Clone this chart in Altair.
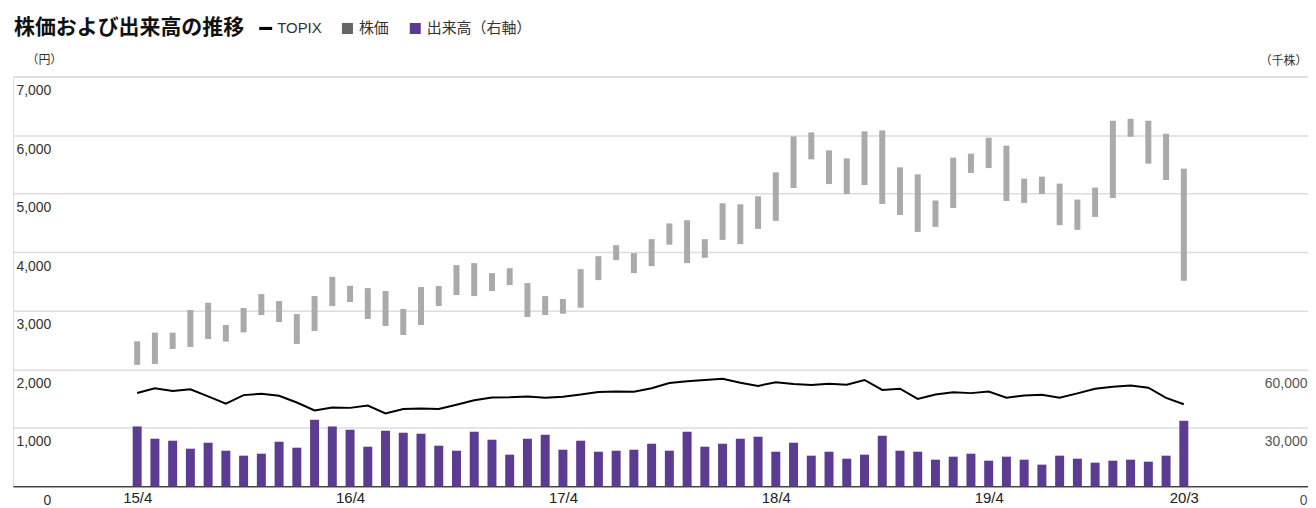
import altair as alt
import pandas as pd

# month labels 15/4 .. 20/3
MONTHS = []
for k in range(60):
    m = (4 + k - 1) % 12 + 1
    yy = 15 + (3 + k) // 12
    MONTHS.append(f"{yy}/{m}")

TICK_POS = [0, 12, 24, 36, 48, 59]
TICK_LABELS = ["15/4", "16/4", "17/4", "18/4", "19/4", "20/3"]

HIGH = [2477, 2625, 2625, 3012, 3136, 2756, 3046, 3284, 3165, 2943, 3250, 3579,
        3426, 3387, 3336, 3029, 3404, 3421, 3779, 3813, 3642, 3727, 3472, 3250,
        3199, 3710, 3932, 4119, 3983, 4222, 4491, 4546, 4222, 4835, 4818, 4955,
        5364, 5978, 6046, 5739, 5603, 6063, 6080, 5449, 5330, 4883, 5615, 5683,
        5955, 5819, 5256, 5291, 5171, 4899, 5103, 6245, 6279, 6245, 6024, 5427]
LOW = [2075, 2091, 2347, 2381, 2517, 2472, 2630, 2926, 2807, 2432, 2654, 3080,
       3148, 2858, 2739, 2586, 2756, 3080, 3267, 3250, 3336, 3438, 2892, 2926,
       2949, 3051, 3523, 3864, 3642, 3762, 4128, 3813, 3904, 4210, 4137, 4398,
       4534, 5096, 5586, 5164, 4994, 5147, 4824, 4636, 4346, 4432, 4755, 5352,
       5437, 4875, 4841, 4994, 4461, 4381, 4602, 4926, 5972, 5512, 5233, 3511]
TOPIX = [1593, 1674, 1630, 1659, 1537, 1411, 1558, 1580, 1547, 1432, 1297, 1347,
         1340, 1380, 1245, 1322, 1329, 1322, 1393, 1470, 1519, 1521, 1535, 1513,
         1531, 1568, 1612, 1618, 1617, 1675, 1766, 1793, 1818, 1837, 1768, 1716,
         1777, 1747, 1731, 1753, 1735, 1817, 1646, 1667, 1494, 1567, 1608, 1592,
         1618, 1512, 1551, 1566, 1512, 1588, 1667, 1700, 1721, 1685, 1511, 1403]
VOLUME = [30680, 24390, 23370, 19280, 22340, 18250, 15700, 16720, 22850, 19790, 34100, 30680,
          28990, 20300, 28480, 27460, 26950, 20810, 18250, 27970, 23880, 16210, 24390, 26430,
          18760, 23370, 17740, 18250, 18760, 21830, 18250, 27970, 20300, 21830, 24390, 25410,
          17740, 22340, 15700, 17740, 14160, 16210, 25920, 18250, 17740, 13650, 15190, 16720,
          13140, 15190, 13650, 11100, 15700, 14160, 12120, 13140, 13650, 12630, 15700, 33590]

LEGEND_NAMES = ["TOPIX", "株価", "出来高（右軸）"]
LEGEND_COLORS = ["#000000", "#666666", "#5c3b92"]
LEGEND_SHAPES = ["M-1,-0.24H1V0.24H-1Z",
                 "M-0.85,-0.85H0.85V0.85H-0.85Z",
                 "M-0.85,-0.85H0.85V0.85H-0.85Z"]

FONT = "'Liberation Sans', 'Noto Sans CJK JP', sans-serif"
JFONT = "'Noto Sans CJK JP', sans-serif"

df = pd.DataFrame({"i": list(range(60)), "month": MONTHS, "high": HIGH, "low": LOW,
                   "topix": TOPIX, "volume": VOLUME})
leg_df = pd.DataFrame({"series": LEGEND_NAMES})

label_expr = "".join(f"datum.value == {p} ? '{l}' : " for p, l in zip(TICK_POS, TICK_LABELS)) + "''"

x_enc = alt.X("i:Q", scale=alt.Scale(domain=[-7, 66], nice=False, zero=False, padding=0),
              axis=alt.Axis(values=TICK_POS, labelExpr=label_expr, grid=False, domain=True,
                            domainColor="#000000", domainWidth=1, ticks=False, tickSize=0,
                            labelFontSize=15, labelColor="#222222", labelPadding=4,
                            labelFont=FONT, title=None))

yleft = alt.Scale(domain=[0, 7000], nice=False, zero=True)

base = alt.Chart(df)

price = base.mark_bar(color="#aaaaaa", width=6).encode(
    x=x_enc,
    y=alt.Y("high:Q", scale=yleft,
            axis=alt.Axis(orient="left", values=list(range(0, 7001, 1000)), format=",.0f",
                          grid=True, gridColor="#dddddd", gridWidth=1.5, domain=False,
                          ticks=False, tickSize=0, labelAlign="right", labelPadding=-38,
                          labelBaseline="middle", labelOffset=14, labelFontSize=14,
                          labelColor="#333333", labelFont=FONT,
                          title="（円）", titleAngle=0, titleAlign="center", titleX=31,
                          titleY=-17, titleBaseline="middle", titleFontSize=12,
                          titleFontWeight="normal", titleColor="#333333", titleFont=JFONT)),
    y2="low:Q",
)

line = base.mark_line(color="#000000", strokeWidth=2).encode(
    x=x_enc,
    y=alt.Y("topix:Q", scale=yleft, axis=None),
)

vol = base.mark_bar(color="#5c3b92", width=9).encode(
    x=x_enc,
    y=alt.Y("volume:Q", scale=alt.Scale(domain=[0, 210000], nice=False),
            axis=alt.Axis(orient="right", values=[0, 30000, 60000], format=",.0f", grid=False,
                          domain=False, ticks=False, tickSize=0, labelAlign="right",
                          labelPadding=-1, labelBaseline="middle", labelOffset=14,
                          labelFontSize=14, labelColor="#555555", labelFont=FONT,
                          title="（千株）", titleAngle=0, titleAlign="right", titleX=-1,
                          titleY=-16, titleBaseline="middle", titleFontSize=12,
                          titleFontWeight="normal", titleColor="#333333", titleFont=JFONT)),
)

leg_props = dict(orient="none", legendX=246, legendY=-56, direction="horizontal", columns=3,
                 title=None, labelFontSize=15, labelColor="#333333", labelFont=FONT,
                 symbolSize=169, symbolStrokeWidth=0, labelOffset=4, columnPadding=18,
                 padding=0, symbolOpacity=1)

legend = alt.Chart(leg_df).mark_point(filled=True, size=169).encode(
    x=alt.value(-60), y=alt.value(200),
    color=alt.Color("series:N", scale=alt.Scale(domain=LEGEND_NAMES, range=LEGEND_COLORS),
                    legend=alt.Legend(**leg_props)),
    shape=alt.Shape("series:N", scale=alt.Scale(domain=LEGEND_NAMES, range=LEGEND_SHAPES),
                    legend=alt.Legend(**leg_props)),
)

chart = alt.layer(price, vol, line, legend).resolve_scale(y="independent").properties(
    width=1299, height=411,
    title=alt.TitleParams("株価および出来高の推移", anchor="start", frame="group", fontSize=21,
                          fontWeight="bold", color="#111111", font=JFONT, dx=1, dy=21),
    autosize=alt.AutoSizeParams(type="none"),
    padding={"left": 5, "top": 68, "right": 0, "bottom": 30},
).configure_view(stroke=None).configure(font=FONT)

chart.save("out.html", embed_options={"renderer": "svg", "actions": False})
